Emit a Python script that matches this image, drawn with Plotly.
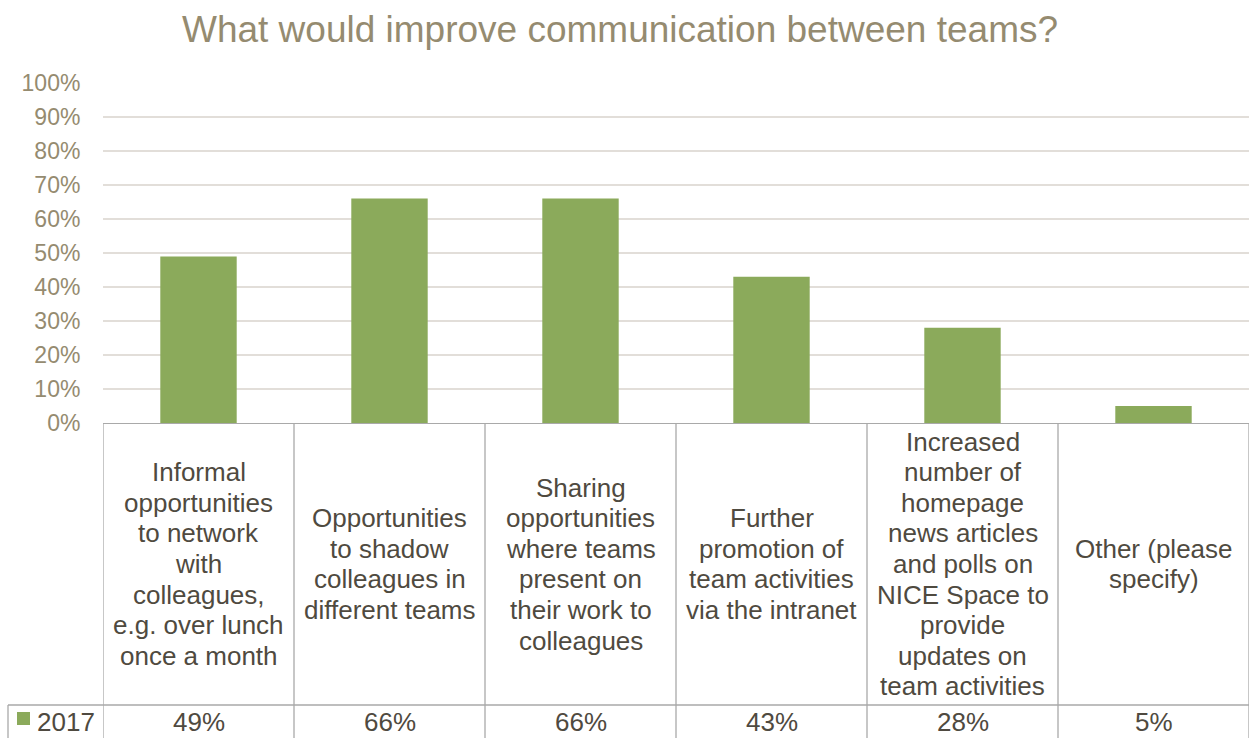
import plotly.graph_objects as go

# Survey results: what would improve communication between teams (2017)
category_labels = [
    "Informal<br>opportunities<br>to network<br>with<br>colleagues,<br>e.g. over lunch<br>once a month",
    "Opportunities<br>to shadow<br>colleagues in<br>different teams",
    "Sharing<br>opportunities<br>where teams<br>present on<br>their work to<br>colleagues",
    "Further<br>promotion of<br>team activities<br>via the intranet",
    "Increased<br>number of<br>homepage<br>news articles<br>and polls on<br>NICE Space to<br>provide<br>updates on<br>team activities",
    "Other (please<br>specify)",
]
values_2017 = [49, 66, 66, 43, 28, 5]
series_name = "2017"
y_ticks = [0, 10, 20, 30, 40, 50, 60, 70, 80, 90, 100]

W, H = 1257, 738
FONT = "Liberation Sans, Arial, sans-serif"
BAR = "#8BAA5B"
TAN = "#958B70"
DARK = "#4F4A40"
BORDER = "#A9A9A9"
GRID = "#E2DED9"

# plot area and data-table geometry (pixels from top-left)
px_left, px_right = 103, 1249
px_top, px_axis = 83, 423
px_value_row = 705
px_legend_left = 8
line_step = 30.6


def fx(px):
    return px / W


def fy(py):
    return 1 - py / H


n = len(values_2017)
xs = list(range(n))

fig = go.Figure(
    go.Bar(
        x=xs,
        y=values_2017,
        width=0.4,
        marker=dict(color=BAR, line=dict(width=0)),
        name=series_name,
        showlegend=False,
        hoverinfo="skip",
    )
)

shapes = []
annotations = []

# column borders of the data table
for i in range(n + 1):
    shapes.append(dict(type="line", xref="x", yref="paper",
                       x0=i - 0.5, x1=i - 0.5, y0=0, y1=fy(px_axis),
                       line=dict(color=BORDER, width=1.3)))
# border above the value row, including the legend cell
shapes.append(dict(type="line", xref="paper", yref="paper",
                   x0=fx(px_legend_left), x1=fx(px_right), y0=fy(px_value_row), y1=fy(px_value_row),
                   line=dict(color=BORDER, width=1.3)))
shapes.append(dict(type="line", xref="paper", yref="paper",
                   x0=fx(px_legend_left), x1=fx(px_legend_left), y0=0, y1=fy(px_value_row),
                   line=dict(color=BORDER, width=1.3)))
# legend key square
shapes.append(dict(type="rect", xref="paper", yref="paper",
                   x0=fx(17), x1=fx(30), y0=fy(725), y1=fy(712),
                   fillcolor=BAR, line=dict(width=0)))

# category labels, one annotation per line for tight line spacing
row_mid = (px_axis + px_value_row) / 2
for i, label in enumerate(category_labels):
    lines = label.split("<br>")
    k = len(lines)
    for j, txt in enumerate(lines):
        offset = (j - (k - 1) / 2) * line_step
        annotations.append(dict(
            x=i, xref="x", y=fy(row_mid), yref="paper",
            text=txt, showarrow=False, xanchor="center", yanchor="middle",
            yshift=-offset,
            font=dict(family=FONT, size=26, color=DARK),
        ))

# value row
for i, v in enumerate(values_2017):
    annotations.append(dict(
        x=i, xref="x", y=fy(722), yref="paper",
        text=f"{v}%", showarrow=False, xanchor="center", yanchor="middle",
        font=dict(family=FONT, size=26, color=DARK),
    ))
annotations.append(dict(
    x=fx(35), xref="paper", y=fy(722), yref="paper",
    text=series_name, showarrow=False, xanchor="left", yanchor="middle",
    font=dict(family=FONT, size=26, color=DARK),
))

fig.update_layout(
    width=W, height=H,
    autosize=False,
    margin=dict(l=0, r=0, t=0, b=0, pad=0, autoexpand=False),
    paper_bgcolor="white", plot_bgcolor="white",
    title=dict(
        text="What would improve communication between teams?",
        x=fx(620), xanchor="center", xref="paper",
        y=fy(29), yanchor="middle", yref="container",
        font=dict(family=FONT, size=37, color=TAN),
        automargin=False,
    ),
    xaxis=dict(
        domain=[fx(px_left), fx(px_right)],
        range=[-0.5, n - 0.5],
        showticklabels=False, showgrid=False, zeroline=False,
        showline=True, linecolor=BORDER, linewidth=1.3,
        fixedrange=True, automargin=False,
    ),
    yaxis=dict(
        domain=[fy(px_axis), fy(px_top)],
        range=[0, 100],
        tickvals=y_ticks,
        ticktext=[f"{t}%" for t in y_ticks],
        tickfont=dict(family=FONT, size=23, color=TAN),
        showgrid=True, gridcolor=GRID, gridwidth=1.5,
        zeroline=False, showline=False,
        ticks="outside", ticklen=17, tickcolor="rgba(0,0,0,0)",
        fixedrange=True, automargin=False,
    ),
    shapes=shapes,
    annotations=annotations,
    bargap=0.6,
)

fig.write_html("out.html")
